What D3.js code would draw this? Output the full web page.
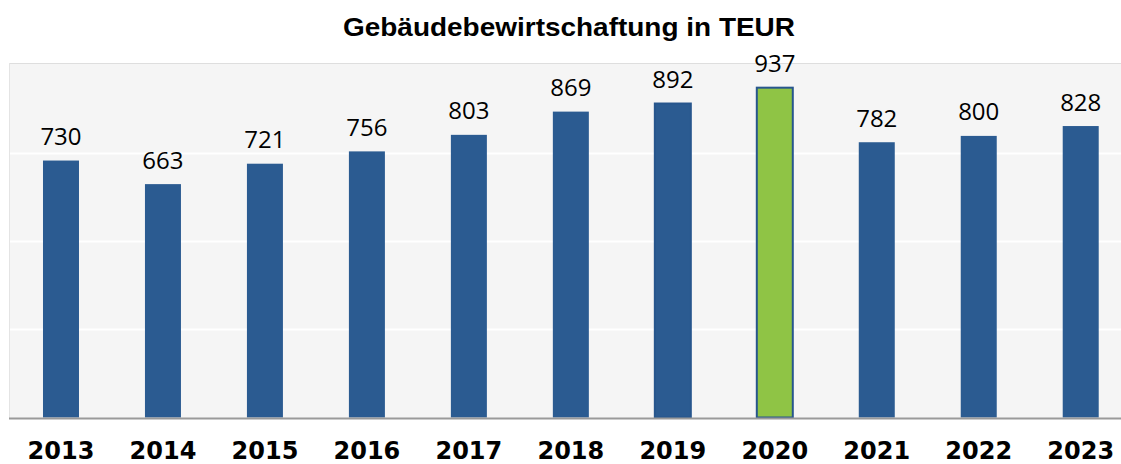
<!DOCTYPE html>
<html>
<head>
<meta charset="utf-8">
<script src="https://cdn.jsdelivr.net/npm/d3@7"></script>
<style>
body { margin:0; background:#fff; }
</style>
</head>
<body>
<svg id="chart"></svg>
<script>
// Gebäudebewirtschaftung bar chart

var years = ["2013","2014","2015","2016","2017","2018","2019","2020","2021","2022","2023"];
var values = [730, 663, 721, 756, 803, 869, 892, 937, 782, 800, 828];
var highlightYear = "2020";
var yTicks = [0, 250, 500, 750, 1000];

var width = 1121, height = 464;

var svg = d3.select("#chart")
.attr("width", width)
.attr("height", height);

// plot area
var plot = {left:9, top:63, bottom:418};

var x = d3.scaleBand()
.domain(years)
.range([10, 1131.7])
.paddingInner(0.647)
.paddingOuter(0.3235);

var y = d3.scaleLinear()
.domain([0, 1000])
.range([417.5, 65.5]);

// background
svg.append("rect")
.attr("x", plot.left)
.attr("y", plot.top)
.attr("width", width - plot.left + 5)
.attr("height", plot.bottom - plot.top)
.attr("fill", "#f5f5f5");

svg.append("line")
.attr("x1", plot.left).attr("x2", width)
.attr("y1", plot.top + 0.5).attr("y2", plot.top + 0.5)
.attr("stroke", "#dedede");
svg.append("line")
.attr("x1", plot.left + 0.5).attr("x2", plot.left + 0.5)
.attr("y1", plot.top).attr("y2", plot.bottom)
.attr("stroke", "#e4e4e4");

// gridlines
svg.append("g")
.selectAll("line")
.data(yTicks.slice(1, -1))
.enter()
.append("line")
.attr("x1", plot.left + 1).attr("x2", width)
.attr("y1", function(d){return y(d);})
.attr("y2", function(d){return y(d);})
.attr("stroke", "#ffffff")
.attr("stroke-width", 2);

// bars
svg.append("g")
.selectAll("rect")
.data(years)
.enter()
.append("rect")
.attr("x", function(d){return x(d);})
.attr("y", function(d, i){return y(values[i]);})
.attr("width", x.bandwidth())
.attr("height", function(d, i){return y(0) - y(values[i]);})
.attr("fill", function(d){return d == highlightYear ? "#8fc445" : "#2b5b91";})
.attr("stroke", function(d){return d == highlightYear || d == "2019" ? "#27568d" : "none";})
.attr("stroke-width", 2);

// baseline
svg.append("line")
.attr("x1", plot.left).attr("x2", width)
.attr("y1", 418.5).attr("y2", 418.5)
.attr("stroke", "#9a9a9a")
.attr("stroke-width", 2);

// value labels
svg.append("g")
.selectAll("text")
.data(years)
.enter()
.append("text")
.attr("x", function(d){return x(d) + x.bandwidth() / 2;})
.attr("y", function(d, i){return y(values[i]) - 15.5;})
.attr("text-anchor", "middle")
.style("font-family", "'Open Sans', sans-serif")
.style("font-size", "24px")
.attr("fill", "#000")
.text(function(d, i){return values[i];});

// year labels
svg.append("g")
.selectAll("text")
.data(years)
.enter()
.append("text")
.attr("x", function(d){return x(d) + x.bandwidth() / 2;})
.attr("y", 459)
.attr("text-anchor", "middle")
.style("font-family", "'DejaVu Sans', sans-serif")
.style("font-weight", "bold")
.style("font-size", "24px")
.attr("fill", "#000")
.text(function(d){return d;});

// title
svg.append("text")
.attr("x", 569)
.attr("y", 36)
.attr("text-anchor", "middle")
.style("font-family", "'Liberation Sans', Arial, sans-serif")
.style("font-weight", "bold")
.style("font-size", "25px")
.attr("textLength", 452)
.attr("lengthAdjust", "spacingAndGlyphs")
.text("Gebäudebewirtschaftung in TEUR");
</script>
</body>
</html>
